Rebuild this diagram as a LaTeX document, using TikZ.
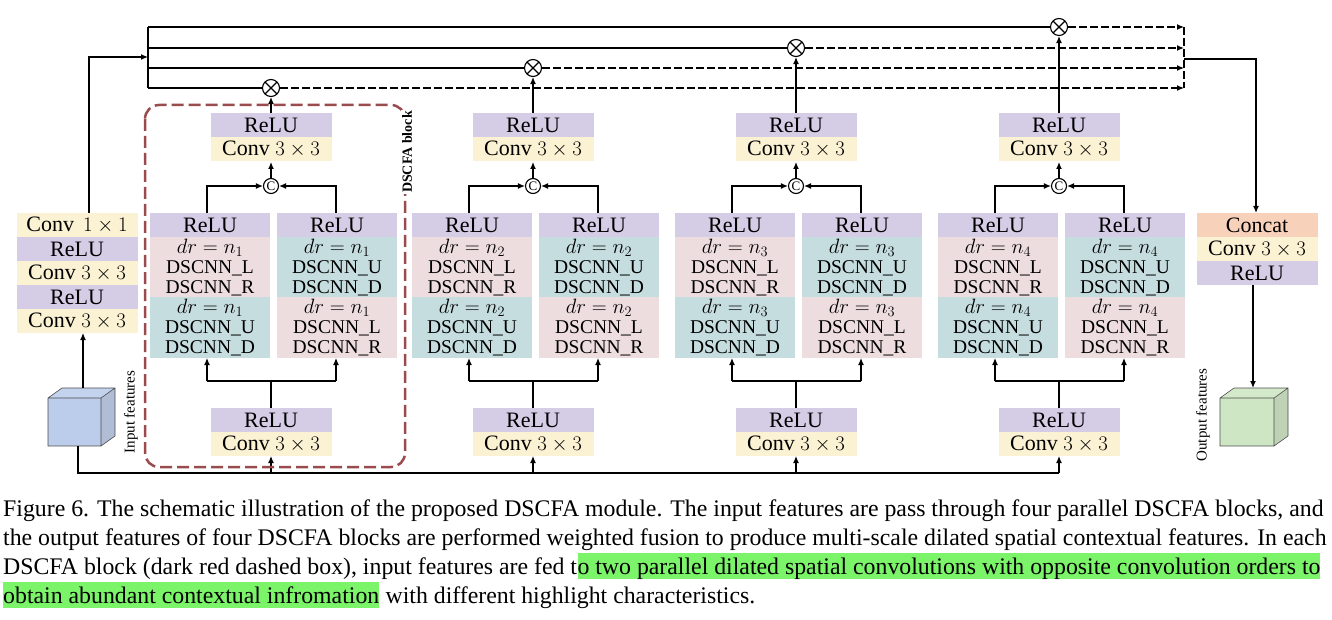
\documentclass[tikz,border=0pt]{standalone}
\usepackage{fontspec}
\setmainfont{LiberationSerif}[Extension=.ttf,UprightFont=*-Regular,BoldFont=*-Bold,ItalicFont=*-Italic,BoldItalicFont=*-BoldItalic]
\usetikzlibrary{arrows.meta}
\definecolor{cy}{HTML}{FBF1D3}
\definecolor{cp}{HTML}{D5CCE6}
\definecolor{cpk}{HTML}{EEDDDF}
\definecolor{ctl}{HTML}{C5DDDF}
\definecolor{cor}{HTML}{F8D1BA}
\definecolor{cbl}{HTML}{BCCDEB}
\definecolor{cgr}{HTML}{CFE6C4}
\definecolor{dred}{HTML}{9A4B4E}
\definecolor{hl}{HTML}{7CF46A}
\tikzset{
 lay/.style={minimum width=121pt,minimum height=24pt,inner sep=0pt,font=\fontsize{22}{24}\selectfont,anchor=north},
 big/.style={minimum width=121pt,minimum height=61pt,inner sep=0pt,font=\fontsize{19.5}{20}\selectfont,align=center,anchor=north},
 ar/.style={-{Latex[length=7pt,width=6pt]},line width=1.2pt},
 ln/.style={line width=1.2pt},
 otimes/.style={circle,draw,line width=1.1pt,fill=white,minimum size=17pt,inner sep=0pt,path picture={\draw[line width=1.1pt] (path picture bounding box.north west)--(path picture bounding box.south east) (path picture bounding box.north east)--(path picture bounding box.south west);}},
 ccirc/.style={circle,draw,line width=1.1pt,fill=white,minimum size=15pt,inner sep=0pt,font=\fontsize{13}{13}\selectfont},
 captxt/.style={font=\fontsize{23.8}{26}\selectfont,inner sep=0pt,anchor=base west}
}
\begin{document}
\begin{tikzpicture}[x=1pt,y=-1pt]
\useasboundingbox (0,0) rectangle (1332,620);
% top lines
\coordinate (tl1) at (148,27);\coordinate (tl4) at (148,88);
\draw[ln] (tl1)--(tl4);
\foreach \y in {27,48,68,88}{\coordinate (s\y) at (148,\y);}
% left stack
\node[lay,fill=cy] (l1) at (77,213) {Conv\, $1\times 1$};
\node[lay,fill=cp] (l2) at (77,237) {ReLU};
\node[lay,fill=cy] (l3) at (77,261) {Conv $3\times 3$};
\node[lay,fill=cp] (l4) at (77,285) {ReLU};
\node[lay,fill=cy] (l5) at (77,309) {Conv $3\times 3$};
\coordinate (lt) at (89,57);
\draw[ar] (89,213)--(lt)--(148,57);
% input cube
\fill[cbl!80!gray] (101,398)--(115,388)--(115,436)--(101,446)--cycle;
\fill[cbl!90!white] (48,398)--(62,388)--(115,388)--(101,398)--cycle;
\fill[cbl] (48,398) rectangle (101,446);
\draw[line width=0.6pt,gray!60!black] (48,398)--(62,388)--(115,388)--(115,436)--(101,446)--(48,446)--cycle (48,398)--(101,398)--(101,446) (101,398)--(115,388);
\node (incube) at (83,388) {};
\draw[ar] (83,388)--(83,333);
\node[rotate=90,font=\fontsize{15}{15}\selectfont] (inlab) at (131,412) {Input features};
\coordinate (bl) at (78,473);
\draw[ln] (78,446)--(bl)--(1059,473);
% blocks
\foreach \k/\dx/\ly/\n in {1/0/88/1,2/262/68/2,3/525/48/3,4/788/27/4}{
 \begin{scope}[xshift=\dx pt]
 \node[lay,fill=cp] (b\k r) at (271,408) {ReLU};
 \node[lay,fill=cy] (b\k c) at (271,432) {Conv $3\times 3$};
 \draw[ar] (271,473)--(271,456);
 \draw[ln] (271,408)--(271,381);
 \draw[ar] (207,381)--(207,358);
 \draw[ar] (336,381)--(336,358);
 \draw[ln] (207,381)--(336,381);
 \node[lay,fill=cp,minimum width=120pt] (b\k lr) at (210,213) {ReLU};
 \node[big,fill=cpk,minimum width=120pt] (b\k la) at (210,237) {$dr=n_\n$\\DSCNN\_L\\DSCNN\_R};
 \node[big,fill=ctl,minimum width=120pt] (b\k lb) at (210,297) {$dr=n_\n$\\DSCNN\_U\\DSCNN\_D};
 \node[lay,fill=cp,minimum width=120pt] (b\k rr) at (337,213) {ReLU};
 \node[big,fill=ctl,minimum width=120pt] (b\k ra) at (337,237) {$dr=n_\n$\\DSCNN\_U\\DSCNN\_D};
 \node[big,fill=cpk,minimum width=120pt] (b\k rb) at (337,297) {$dr=n_\n$\\DSCNN\_L\\DSCNN\_R};
 \node[ccirc] (b\k cc) at (271,186) {C};
 \draw[ar] (207,213)--(207,186)--(b\k cc);
 \draw[ar] (336,213)--(336,186)--(b\k cc);
 \node[lay,fill=cp] (b\k tr) at (271,113) {ReLU};
 \node[lay,fill=cy] (b\k tc) at (271,137) {Conv $3\times 3$};
 \draw[ar] (b\k cc)--(271,162);
 \node[otimes] (b\k x) at (271,\ly) {};
 \draw[ar] (271,113)--(b\k x);
 \end{scope}
}
% horizontal lines
\draw[ln] (s88)--(b1x.west); \draw[ar,dash pattern=on 8pt off 3pt] (b1x.east)--(1184,88);
\draw[ln] (s68)--(b2x.west); \draw[ar,dash pattern=on 8pt off 3pt] (b2x.east)--(1184,68);
\draw[ln] (s48)--(b3x.west); \draw[ar,dash pattern=on 8pt off 3pt] (b3x.east)--(1184,48);
\draw[ln] (s27)--(b4x.west); \draw[ar,dash pattern=on 8pt off 3pt] (b4x.east)--(1184,27);
\draw[ln,dash pattern=on 8pt off 3pt] (1184,27)--(1184,88);
% dashed block
\draw[dred,line width=2.5pt,dash pattern=on 12pt off 5pt,rounded corners=14pt] (145,105) rectangle (405,467);
\node[rotate=90,fill=white,inner sep=1pt,font=\bfseries\fontsize{14}{14}\selectfont] (dlab) at (407,152) {DSCFA block};
% right stack
\node[lay,fill=cor] (r1) at (1257,213) {Concat};
\node[lay,fill=cy] (r2) at (1257,237) {Conv $3\times 3$};
\node[lay,fill=cp] (r3) at (1257,261) {ReLU};
\draw[ar] (1184,59)--(1256,59)--(1256,213);
\draw[ar] (1253,285)--(1253,388);
\fill[cgr!80!gray] (1274,398)--(1288,388)--(1288,436)--(1274,446)--cycle;
\fill[cgr!90!white] (1220,398)--(1234,388)--(1288,388)--(1274,398)--cycle;
\fill[cgr] (1220,398) rectangle (1274,446);
\draw[line width=0.6pt,gray!60!black] (1220,398)--(1234,388)--(1288,388)--(1288,436)--(1274,446)--(1220,446)--cycle (1220,398)--(1274,398)--(1274,446) (1274,398)--(1288,388);
\node[rotate=90,font=\fontsize{15}{15}\selectfont] (outlab) at (1203,415) {Output features};
% caption
\node[captxt] (c1) at (3,516) {Figure 6. The schematic illustration of the proposed DSCFA module. The input features are pass through four parallel DSCFA blocks, and};
\node[captxt] (c2) at (3,545) {the output features of four DSCFA blocks are performed weighted fusion to produce multi-scale dilated spatial contextual features. In each};
\node[captxt] (c3) at (3,574) {DSCFA block (dark red dashed box), input features are fed t};
\node[captxt,fill=hl,inner ysep=4pt,text depth=1pt] (c3b) at (c3.base east) {o two parallel dilated spatial convolutions with opposite convolution orders to};
\node[captxt,fill=hl,inner ysep=4pt,text depth=1pt] (c4) at (3,603) {obtain abundant contextual infromation};
\node[captxt] (c4b) at (c4.base east) {\ with different highlight characteristics.};
\end{tikzpicture}
\end{document}
